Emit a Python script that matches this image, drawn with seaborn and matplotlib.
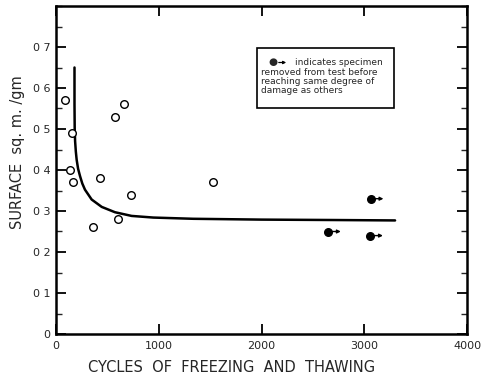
import numpy as np
import pandas as pd
import matplotlib
matplotlib.use("Agg")
import matplotlib.pyplot as plt
from matplotlib.ticker import FixedLocator, MultipleLocator
import seaborn as sns

# ---- data ----
open_cycles = [90, 160, 140, 170, 360, 430, 570, 665, 600, 730, 1525]
open_surface = [0.57, 0.49, 0.40, 0.37, 0.26, 0.38, 0.53, 0.56, 0.28, 0.34, 0.37]

removed_cycles = [2650, 3065, 3060]
removed_surface = [0.25, 0.33, 0.24]

curve_cycles = [180, 180, 182, 186, 193, 201, 215, 234, 256, 282, 347, 445, 574, 736, 947, 1335, 2000, 2700, 3300]
curve_surface = [0.65, 0.56, 0.50, 0.47, 0.445, 0.425, 0.403, 0.385, 0.367, 0.352, 0.328, 0.310, 0.297, 0.288, 0.284, 0.281, 0.279, 0.278, 0.277]

x_ticks = [0, 1000, 2000, 3000, 4000]
x_tick_labels = ["0", "1000", "2000", "3000", "4000"]
y_ticks = [0, 0.1, 0.2, 0.3, 0.4, 0.5, 0.6, 0.7]
y_tick_labels = ["0", "0 1", "0 2", "0 3", "0 4", "0 5", "0 6", "0 7"]

legend_lines = ["indicates specimen", "removed from test before",
                "reaching same degree of", "damage as others"]

df_open = pd.DataFrame({"cycles": open_cycles, "surface": open_surface})
df_removed = pd.DataFrame({"cycles": removed_cycles, "surface": removed_surface})
df_curve = pd.DataFrame({"cycles": curve_cycles, "surface": curve_surface})

sns.set_style("ticks")
plt.rcParams["font.family"] = ["DejaVu Sans"]

fig = plt.figure(figsize=(4.97, 3.79), dpi=100)
ax = fig.add_axes([56 / 497, 1 - 334 / 379, (467 - 56) / 497, (334 - 6) / 379])

sns.lineplot(data=df_curve, x="cycles", y="surface", sort=False, estimator=None,
             color="black", linewidth=1.8, ax=ax)
sns.scatterplot(data=df_open, x="cycles", y="surface", marker="o", s=30,
                facecolor="white", edgecolor="black", linewidth=1.0, ax=ax, zorder=3)
sns.scatterplot(data=df_removed, x="cycles", y="surface", marker="o", s=30,
                color="black", edgecolor="black", linewidth=1.0, ax=ax, zorder=3)
for cx, cy in zip(removed_cycles, removed_surface):
    ax.annotate("", xy=(cx, cy), xytext=(9, 0), textcoords="offset points",
                arrowprops=dict(arrowstyle="<|-", color="black", lw=1.0,
                                mutation_scale=5, shrinkA=0, shrinkB=3))

ax.set_xlim(0, 4000)
ax.set_ylim(0, 0.8)
ax.xaxis.set_major_locator(FixedLocator(x_ticks))
ax.set_xticklabels(x_tick_labels)
ax.yaxis.set_major_locator(FixedLocator(y_ticks))
ax.set_yticklabels(y_tick_labels)
ax.yaxis.set_minor_locator(MultipleLocator(0.05))

ax.tick_params(axis="both", which="major", direction="in", length=7, width=1.3,
               labelsize=8, top=True, right=True, pad=4, color="black")
ax.tick_params(axis="y", which="minor", direction="in", length=4, width=1.0,
               left=True, right=True)
ax.tick_params(axis="x", which="major", pad=5)
for sp in ax.spines.values():
    sp.set_visible(True)
    sp.set_linewidth(1.8)
    sp.set_color("black")

ax.set_xlabel("")
ax.set_ylabel("")
fig.text(232 / 497, 1 - 368 / 379, "CYCLES  OF  FREEZING  AND  THAWING",
         ha="center", va="center", fontsize=10.5)
fig.text(18 / 497, 1 - 152 / 379, "SURFACE  sq. m. /gm", rotation=90,
         ha="center", va="center", fontsize=10.5)

# legend-like box
bx0, by0, bx1, by1 = 257, 48, 394, 108
box = plt.Rectangle((bx0 / 497, 1 - by1 / 379), (bx1 - bx0) / 497, (by1 - by0) / 379,
                    transform=fig.transFigure, fill=False, edgecolor="black", linewidth=1.2)
fig.add_artist(box)
fig.text(273 / 497, 1 - 62.5 / 379, "\u25CF", ha="center", va="center", fontsize=7.5)
fig.add_artist(matplotlib.patches.FancyArrowPatch(
    (276 / 497, 1 - 62.5 / 379), (289 / 497, 1 - 62.5 / 379),
    transform=fig.transFigure, arrowstyle="-|>", mutation_scale=4, lw=0.9, color="black"))
ys = [62.5, 72.5, 81.5, 90.5]
xs = [295, 261, 261, 261]
for t, yy, xx in zip(legend_lines, ys, xs):
    fig.text(xx / 497, 1 - yy / 379, t, ha="left", va="center", fontsize=6.5)

fig.savefig("out.png", dpi=100)
